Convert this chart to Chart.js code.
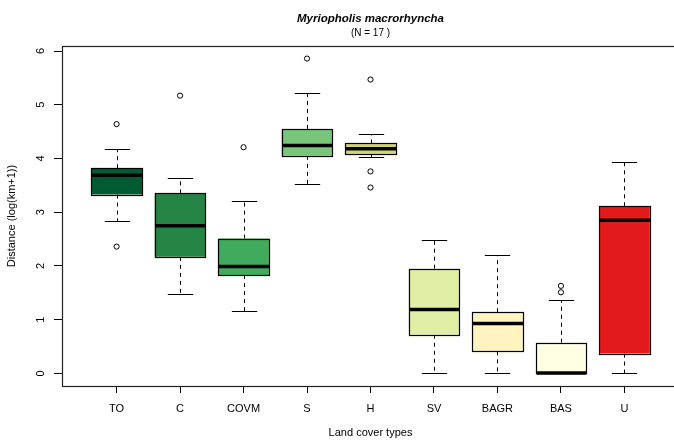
<!DOCTYPE html>
<html>
<head>
<meta charset="utf-8">
<script src="https://cdn.jsdelivr.net/npm/chart.js@4/dist/chart.umd.min.js"></script>
<style>
  html, body { margin: 0; padding: 0; background: #fff; overflow: hidden; }
  #wrap { width: 674px; height: 444px; overflow: hidden; }
</style>
</head>
<body>
<div id="wrap"><canvas id="c" width="690" height="444"></canvas></div>
<script>
// Boxplot: Distanz je Landbedeckungstyp (log(km+1))
const categories = ['TO', 'C', 'COVM', 'S', 'H', 'SV', 'BAGR', 'BAS', 'U'];
const lowerWhisker = [2.83, 1.47, 1.17, 3.52, 4.03, 0.00, 0.00, 0.00, 0.00];
const q1Values     = [3.33, 2.17, 1.83, 4.05, 4.09, 0.72, 0.41, 0.00, 0.37];
const medianValues = [3.69, 2.75, 1.99, 4.24, 4.18, 1.19, 0.93, 0.01, 2.85];
const q3Values     = [3.82, 3.35, 2.51, 4.55, 4.28, 1.95, 1.14, 0.57, 3.11];
const upperWhisker = [4.18, 3.63, 3.20, 5.22, 4.45, 2.48, 2.20, 1.37, 3.94];
const outlierValues = [[4.64, 2.36], [5.17], [4.21], [5.86], [5.47, 3.76, 3.46], [], [], [1.51, 1.63], []];
const boxColours = ['#005a32', '#238443', '#41ab5d', '#78c679', '#d2d27a', '#e1eea5', '#fff4bf', '#ffffe3', '#e31a1c'];
const yTicks = [0, 1, 2, 3, 4, 5, 6];

const FONT = "'Liberation Sans', Arial, sans-serif";

// Whisker, Kappen, Median, Boxrand und Rahmen über die Skalen zeichnen
const boxExtras = {
  id: 'boxExtras',
  beforeDatasetsDraw(chart) {
    const ctx = chart.ctx, y = chart.scales.y;
    const bars = chart.getDatasetMeta(0).data;
    ctx.save();
    ctx.strokeStyle = '#000'; ctx.lineWidth = 1;
    bars.forEach(function (bar, i) {
      const cx = Math.round(bar.x) + 0.5, half = bar.width / 4;
      [[q3Values[i], upperWhisker[i]], [q1Values[i], lowerWhisker[i]]].forEach(function (p) {
        if (p[0] === p[1]) return;
        const yEnd = Math.round(y.getPixelForValue(p[1])) + 0.5;
        ctx.setLineDash([4, 4]);
        ctx.beginPath(); ctx.moveTo(cx, y.getPixelForValue(p[0])); ctx.lineTo(cx, yEnd); ctx.stroke();
        ctx.setLineDash([]);
        ctx.beginPath(); ctx.moveTo(cx - half, yEnd); ctx.lineTo(cx + half, yEnd); ctx.stroke();
      });
    });
    ctx.restore();
  },
  afterDatasetsDraw(chart) {
    const ctx = chart.ctx, y = chart.scales.y;
    const bars = chart.getDatasetMeta(0).data;
    ctx.save();
    ctx.strokeStyle = '#000';
    bars.forEach(function (bar, i) {
      const l = Math.round(bar.x - bar.width / 2) + 0.5, r = Math.round(bar.x + bar.width / 2) + 0.5;
      const t = Math.round(y.getPixelForValue(q3Values[i])) + 0.5, b = Math.round(y.getPixelForValue(q1Values[i])) + 0.5;
      ctx.lineWidth = 1.2;
      ctx.strokeRect(l, t, r - l, b - t);
      const py = y.getPixelForValue(medianValues[i]);
      ctx.lineWidth = 3.5;
      ctx.beginPath(); ctx.moveTo(l, py); ctx.lineTo(r, py); ctx.stroke();
    });
    ctx.restore();
  },
  afterDraw(chart) {
    const ctx = chart.ctx, a = chart.chartArea;
    ctx.save();
    ctx.strokeStyle = '#222'; ctx.lineWidth = 1.2;
    ctx.strokeRect(Math.round(a.left) + 0.5, Math.round(a.top) + 0.5, a.right - a.left, a.bottom - a.top);
    const cx = (a.left + a.right) / 2;
    ctx.fillStyle = '#000'; ctx.textAlign = 'center'; ctx.textBaseline = 'middle';
    ctx.font = 'italic bold 11.5px ' + FONT;
    ctx.fillText('Myriopholis macrorhyncha', cx, 19);
    ctx.font = '10px ' + FONT;
    ctx.fillText('(N = 17 )', cx, 33);
    ctx.restore();
  }
};

new Chart(document.getElementById('c').getContext('2d'), {
  type: 'bar',
  data: {
    datasets: [
      {
        type: 'bar',
        data: categories.map(function (c, i) { return { x: i, y: [q1Values[i], q3Values[i]] }; }),
        backgroundColor: boxColours, borderWidth: 0,
        barPercentage: 0.8, categoryPercentage: 1
      },
      {
        type: 'scatter',
        data: outlierValues.flatMap(function (vals, i) { return vals.map(function (v) { return { x: i, y: v }; }); }),
        pointStyle: 'circle', pointRadius: 2.6, borderColor: '#000', backgroundColor: 'rgba(0,0,0,0)', borderWidth: 1
      }
    ]
  },
  options: {
    responsive: false, animation: false, devicePixelRatio: 1,
    layout: { padding: { top: 46, right: 11, left: 0, bottom: 0 } },
    plugins: { legend: { display: false }, tooltip: { enabled: false }, title: { display: false } },
    scales: {
      x: {
        type: 'linear', min: -0.86, max: 8.86, offset: false,
        afterFit: function (s) { s.height = 58; },
        grid: { offset: false, drawOnChartArea: false, drawTicks: true, tickLength: 7, color: '#000' },
        border: { display: false },
        ticks: { stepSize: 1, includeBounds: false, autoSkip: false, maxRotation: 0, padding: 9, color: '#000',
          font: { family: FONT, size: 11 }, callback: function (v) { return categories[v]; } },
        title: { display: true, text: 'Land cover types', color: '#000', font: { family: FONT, size: 11 }, padding: { bottom: 4 } }
      },
      y: {
        min: -0.234, max: 6.094,
        afterFit: function (s) { s.width = 62; },
        afterBuildTicks: function (s) { s.ticks = yTicks.map(function (v) { return { value: v }; }); },
        grid: { drawOnChartArea: false, drawTicks: true, tickLength: 8, color: '#000' },
        border: { display: false },
        ticks: { autoSkip: false, minRotation: 90, maxRotation: 90, crossAlign: 'center', padding: 10, color: '#000',
          font: { family: FONT, size: 11 } },
        title: { display: true, text: 'Distance (log(km+1))', color: '#000', font: { family: FONT, size: 11 }, padding: { top: 5 } }
      }
    }
  },
  plugins: [boxExtras]
});
</script>
</body>
</html>
